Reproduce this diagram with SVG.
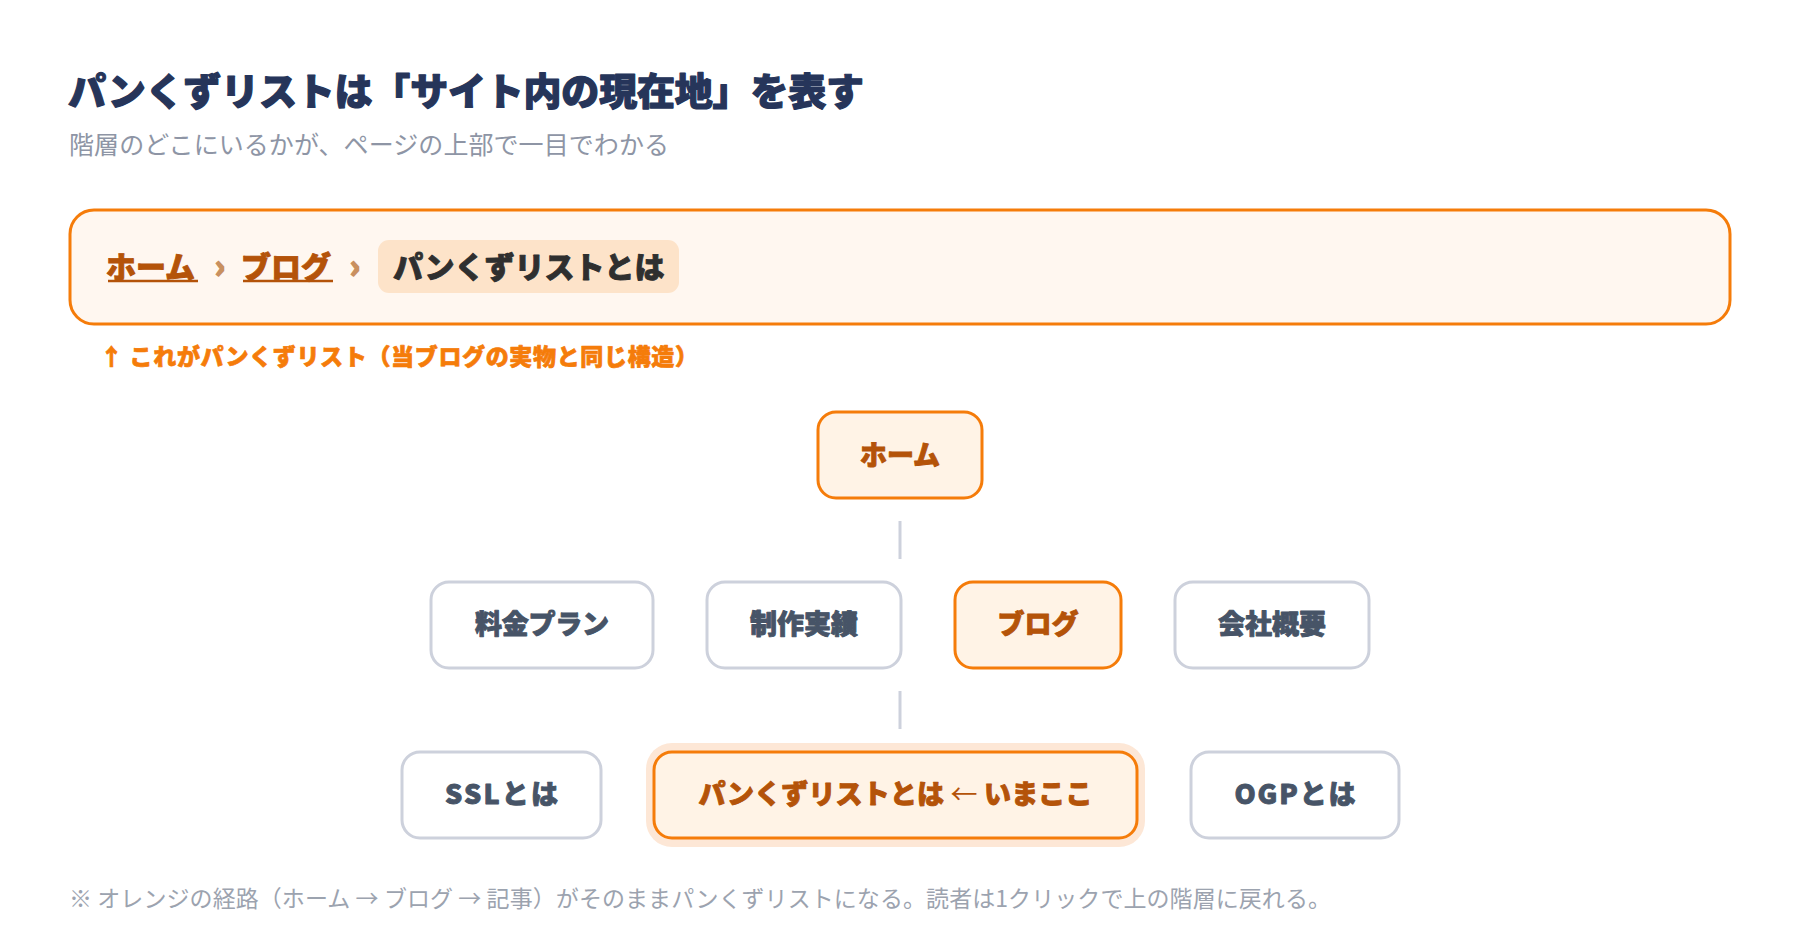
<svg xmlns="http://www.w3.org/2000/svg" width="1800" height="940" viewBox="0 0 1800 940">
<style>
text{font-family:"Noto Sans CJK JP","Noto Sans",sans-serif;dominant-baseline:central}
.title{font-size:38px;font-weight:900;fill:#26355a;stroke:#26355a;stroke-width:1.2;stroke-linejoin:round}
.sub{font-size:25px;font-weight:400;fill:#8e95a5}
.crumb{font-size:30px;font-weight:900;fill:#b45309;stroke:#b45309;stroke-width:0.9;stroke-linejoin:round}
.sep{font-size:32px;font-weight:900;fill:#c9905f;stroke:#c9905f;stroke-width:1.5;text-anchor:middle}
.cur{font-size:30px;font-weight:900;fill:#2f2f2f;stroke:#2f2f2f;stroke-width:0.9;stroke-linejoin:round}
.cap{font-size:23px;font-weight:900;fill:#f57c0a;stroke:#f57c0a;stroke-width:0.7;stroke-linejoin:round}
.foot{font-size:23px;font-weight:400;fill:#9ca3af}
.nodeO rect{fill:#fff3e6;stroke:#f57c0a;stroke-width:3}
.nodeG rect{fill:#ffffff;stroke:#cdd1dc;stroke-width:3}
.nodeO text{font-size:27px;font-weight:900;fill:#b45309;stroke:#b45309;stroke-width:0.9;stroke-linejoin:round;text-anchor:middle}
.nodeG text{font-size:27px;font-weight:900;fill:#475467;stroke:#475467;stroke-width:0.9;stroke-linejoin:round;text-anchor:middle}
.conn{stroke:#cdd1dc;stroke-width:3}
</style>
<rect width="1800" height="940" fill="#ffffff"/>
<g id="header">
<text class="title" x="68" y="88" textLength="796">パンくずリストは「サイト内の現在地」を表す</text>
<text class="sub" x="69" y="143" textLength="600">階層のどこにいるかが、ページの上部で一目でわかる</text>
</g>
<g id="breadcrumb">
<rect x="70" y="210" width="1660" height="114" rx="24" fill="#fff7f0" stroke="#f57c0a" stroke-width="3"/>
<text class="crumb" x="106" y="265">ホーム</text>
<line x1="108" y1="281" x2="198" y2="281" stroke="#b45309" stroke-width="2.5"/>
<text class="sep" x="220" y="264">›</text>
<text class="crumb" x="241" y="265">ブログ</text>
<line x1="243" y1="281" x2="333" y2="281" stroke="#b45309" stroke-width="2.5"/>
<text class="sep" x="355" y="264">›</text>
<rect x="378" y="240" width="301" height="53" rx="11" fill="#fde3c9"/>
<text class="cur" x="393" y="265">パンくずリストとは</text>
</g>
<g id="caption">
<text class="cap" x="100" y="355" textLength="598">↑ これがパンくずリスト（当ブログの実物と同じ構造）</text>
</g>
<g id="connectors">
<line class="conn" x1="900" y1="521" x2="900" y2="559"/>
<line class="conn" x1="900" y1="691" x2="900" y2="729"/>
</g>
<g id="node-home" class="nodeO">
<rect x="818" y="412" width="164" height="86" rx="18"/>
<text x="900" y="453">ホーム</text>
</g>
<g id="node-plan" class="nodeG">
<rect x="431" y="582" width="222" height="86" rx="18"/>
<text x="542" y="622" textLength="134">料金プラン</text>
</g>
<g id="node-works" class="nodeG">
<rect x="707" y="582" width="194" height="86" rx="18"/>
<text x="804" y="622" textLength="108">制作実績</text>
</g>
<g id="node-blog" class="nodeO">
<rect x="955" y="582" width="166" height="86" rx="18"/>
<text x="1038" y="622">ブログ</text>
</g>
<g id="node-company" class="nodeG">
<rect x="1175" y="582" width="194" height="86" rx="18"/>
<text x="1272" y="622" textLength="108">会社概要</text>
</g>
<g id="node-ssl" class="nodeG">
<rect x="402" y="752" width="199" height="86" rx="18"/>
<text x="501.5" y="792" textLength="113">SSLとは</text>
</g>
<g id="node-current" class="nodeO">
<rect x="646" y="743" width="499" height="104" rx="26" style="fill:#fde7d6;stroke:none"/>
<rect x="654" y="752" width="483" height="86" rx="18"/>
<text x="895.5" y="792" textLength="394">パンくずリストとは <tspan font-weight="400" style="stroke:none">←</tspan> いまここ</text>
</g>
<g id="node-ogp" class="nodeG">
<rect x="1191" y="752" width="208" height="86" rx="18"/>
<text x="1295" y="792" textLength="121">OGPとは</text>
</g>
<g id="footnote">
<text class="foot" x="69" y="897" textLength="1262">※ オレンジの経路（ホーム → ブログ → 記事）がそのままパンくずリストになる。読者は1クリックで上の階層に戻れる。</text>
</g>
</svg>
